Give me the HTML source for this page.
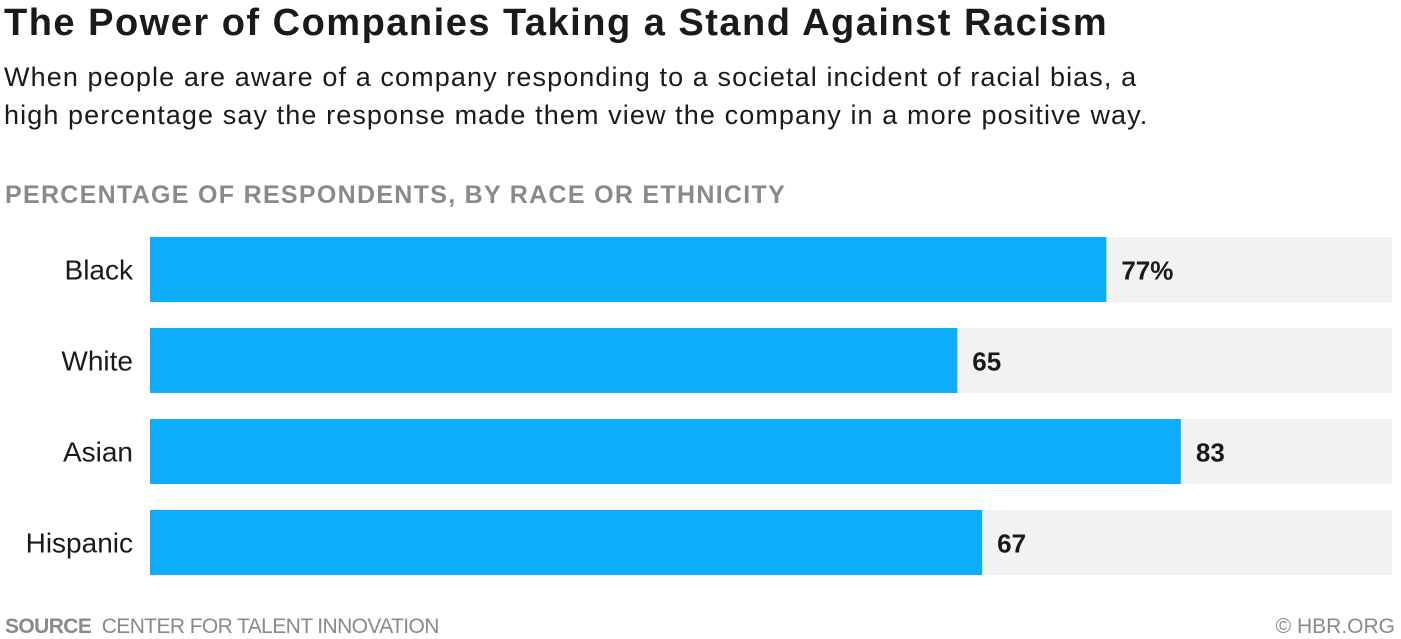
<!DOCTYPE html>
<html><head><meta charset="utf-8"><style>
body{margin:0;width:1401px;height:639px;background:#fff;font-family:"Liberation Sans",sans-serif;position:relative;overflow:hidden}
.t{position:absolute;white-space:nowrap}
</style></head><body>
<div class="t" style="left:4px;top:2px;font-size:38px;font-weight:bold;color:#1a1a1a;letter-spacing:1.5px">The Power of Companies Taking a Stand Against Racism</div>
<div class="t" style="left:4px;top:58px;font-size:27px;line-height:38px;color:#1a1a1a;letter-spacing:1.1px">When people are aware of a company responding to a societal incident of racial bias, a<br>high percentage say the response made them view the company in a more positive way.</div>
<div class="t" style="left:5px;top:181px;font-size:25px;font-weight:bold;color:#8a8a8a;letter-spacing:1.3px">PERCENTAGE OF RESPONDENTS, BY RACE OR ETHNICITY</div>
<svg id="c" width="1401" height="639" style="position:absolute;left:0;top:0"></svg>
<div class="t" style="left:5px;top:615px;font-size:21px;color:#8a8a8a;letter-spacing:-0.6px"><b>SOURCE</b>&nbsp; CENTER FOR TALENT INNOVATION</div>
<div class="t" style="right:6px;top:615px;font-size:21px;color:#8a8a8a">© HBR.ORG</div>
<script>
const categories=["Black","White","Asian","Hispanic"];
const values=[77,65,83,67];
const labels=["77%","65","83","67"];
const svg=document.getElementById('c');
const NS="http://www.w3.org/2000/svg";
const x0=150,w=1242,y0=237,h=65,step=91;
const xs=v=>x0+v/100*w;
function mk(tag,a){const e=document.createElementNS(NS,tag);for(const k in a)e.setAttribute(k,a[k]);svg.appendChild(e);return e;}
categories.forEach((c,i)=>{
  const y=y0+i*step;
  const bg=mk('rect',{x:x0,y:y,width:w,height:h,fill:'#f2f2f2'});
  
  
  const b=mk('rect',{x:x0,y:y,width:xs(values[i])-x0,height:h,fill:'#0dadfb'});
  
  
  const t=mk('text',{x:133,y:y+h/2+10,'text-anchor':'end','font-size':28,fill:'#1a1a1a','font-family':'Liberation Sans, sans-serif'});
  t.textContent=c;
  
  
  const v=mk('text',{x:xs(values[i])+15,y:y+h/2+10,'font-size':26,'font-weight':'bold',fill:'#1a1a1a','font-family':'Liberation Sans, sans-serif'});
  v.textContent=labels[i];
  
  
});
</script>
</body></html>
